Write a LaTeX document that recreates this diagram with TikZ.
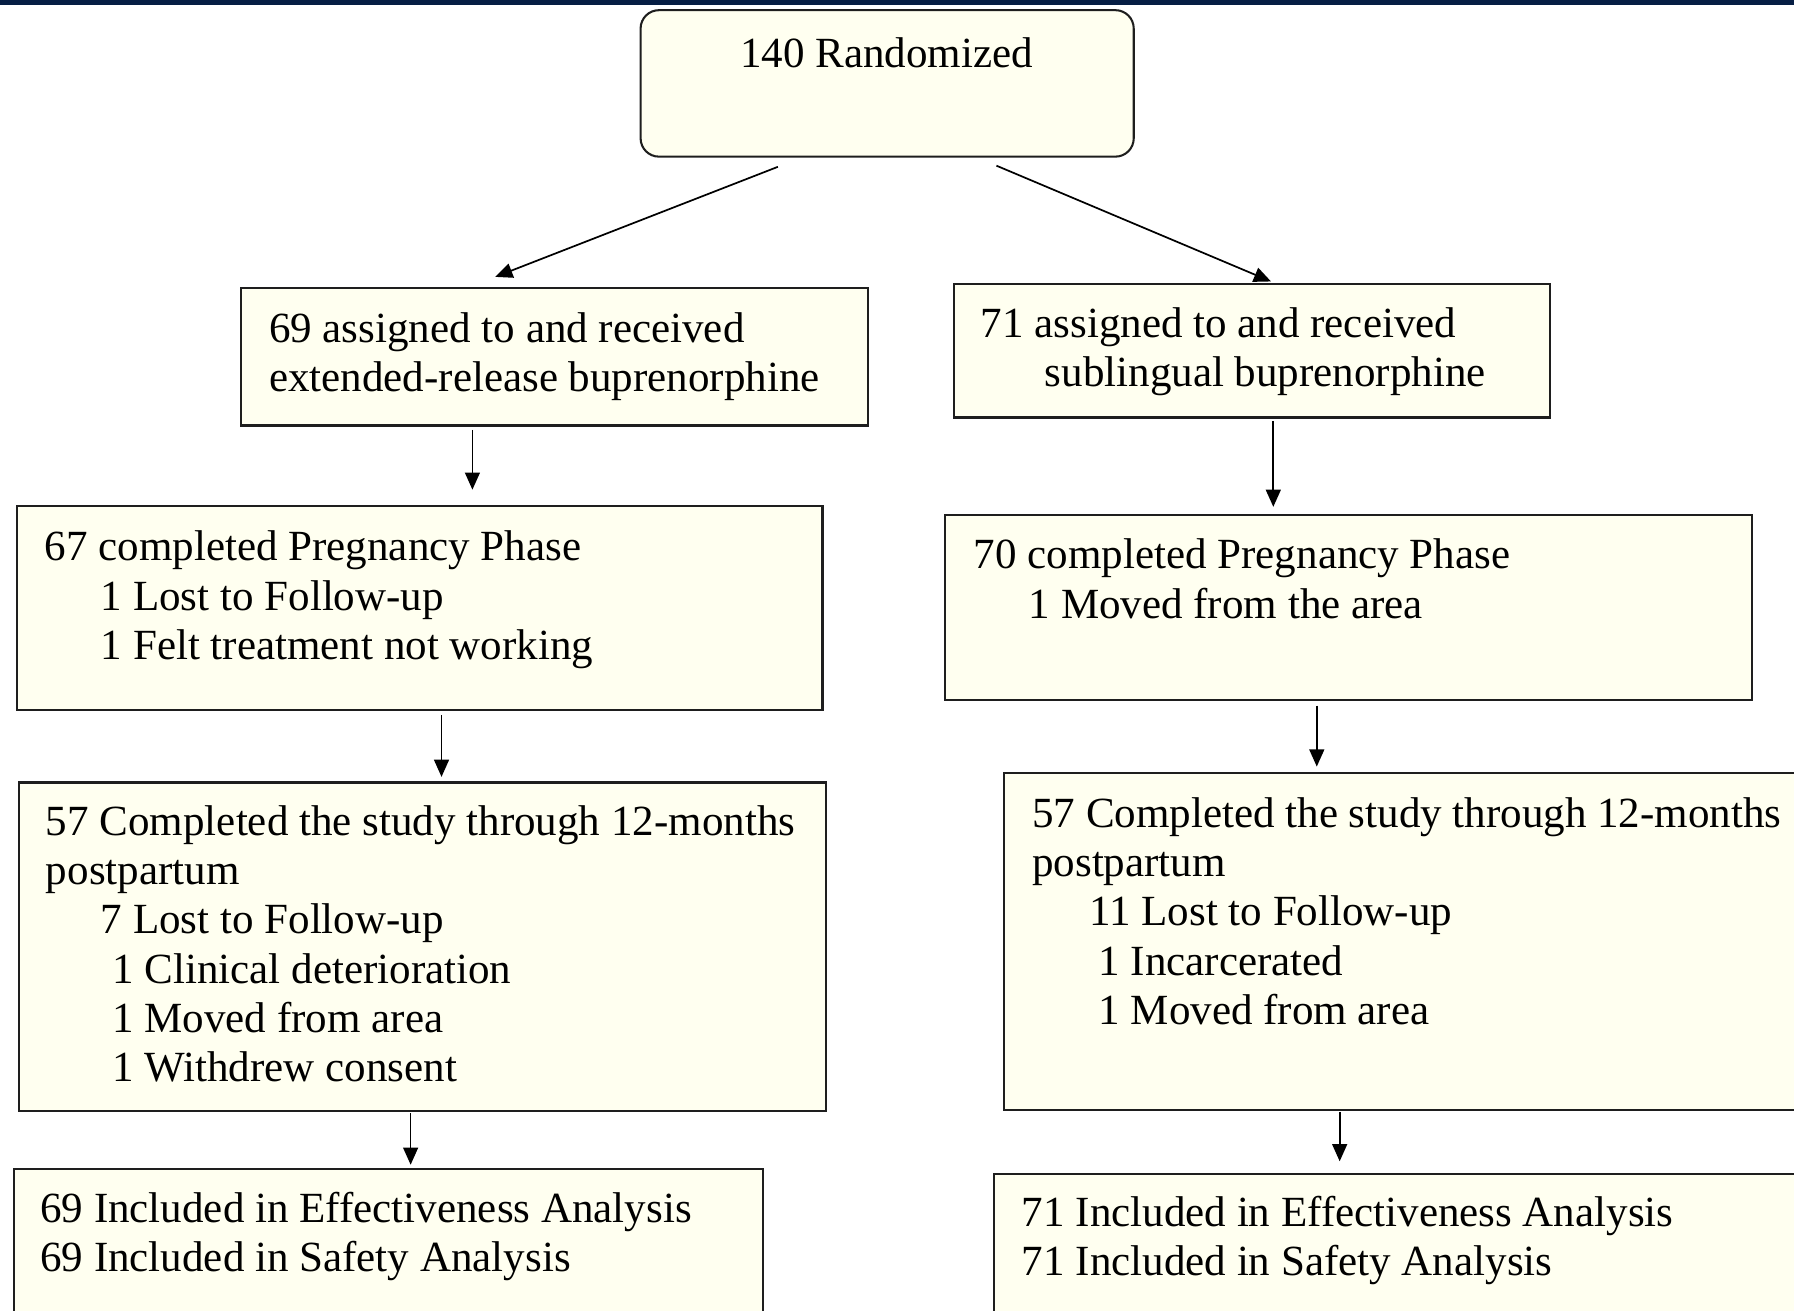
\documentclass[tikz,border=0pt]{standalone}
\usepackage{fontspec}
\setmainfont{Liberation Serif}
\usetikzlibrary{arrows.meta}
\definecolor{cream}{RGB}{255,255,240}
\definecolor{navy}{RGB}{6,30,68}
\definecolor{edge}{RGB}{30,30,30}
\begin{document}
\begin{tikzpicture}[x=1pt,y=-1pt,
  box/.style={draw=edge, line width=1.8pt, fill=cream, inner sep=0pt, anchor=north west},
  txt/.style={inner sep=0pt, align=left, anchor=north west, text=black,
    font=\fontsize{37.6}{43}\selectfont},
  arr/.style={draw=black, line width=1.5pt, -{Triangle[length=15pt,width=13pt]}}]
\useasboundingbox (0,0) rectangle (1568,1145);
\clip (0,0) rectangle (1568,1145);
\fill[navy] (0,0) rectangle (1568,4.5);
% boxes
\node[box, rounded corners=16pt, minimum width=431pt, minimum height=128pt] (R) at (559,8) {};
\node[box, minimum width=548pt, minimum height=120pt] (A) at (210,251) {};
\node[box, minimum width=521pt, minimum height=117pt] (B) at (833,247) {};
\node[box, minimum width=704pt, minimum height=179pt] (C) at (14,441) {};
\node[box, minimum width=705pt, minimum height=162pt] (D) at (825,449) {};
\node[box, minimum width=705pt, minimum height=287pt] (E) at (16,683) {};
\node[box, minimum width=710pt, minimum height=294pt] (F) at (877,675) {};
\node[box, minimum width=655pt, minimum height=150pt] (G) at (11,1021) {};
\node[box, minimum width=712pt, minimum height=150pt] (H) at (868,1025) {};
% texts
\node[txt, anchor=base] (Rt) at (775,59) {140 Randomized};
\node[txt] (At) at (235,269) {\rule{0pt}{30pt}69 assigned to and received\\extended-release buprenorphine};
\node[txt] (Bt) at (857,265) {\rule{0pt}{30pt}71 assigned to and received\\\hspace*{56pt}sublingual buprenorphine};
\node[txt] (Ct) at (39,460) {\rule{0pt}{30pt}67 completed Pregnancy Phase\\\hspace*{49pt}1 Lost to Follow-up\\\hspace*{49pt}1 Felt treatment not working};
\node[txt] (Dt) at (851,467) {\rule{0pt}{30pt}70 completed Pregnancy Phase\\\hspace*{48pt}1 Moved from the area};
\node[txt] (Et) at (40,700) {\rule{0pt}{30pt}57 Completed the study through 12-months\\postpartum\\\hspace*{48pt}7 Lost to Follow-up\\\hspace*{58pt}1 Clinical deterioration\\\hspace*{58pt}1 Moved from area\\\hspace*{58pt}1 Withdrew consent};
\node[txt] (Ft) at (902,693) {\rule{0pt}{30pt}57 Completed the study through 12-months\\postpartum\\\hspace*{50pt}11 Lost to Follow-up\\\hspace*{58pt}1 Incarcerated\\\hspace*{58pt}1 Moved from area};
\node[txt] (Gt) at (35,1038) {\rule{0pt}{30pt}69 Included in Effectiveness Analysis\\69 Included in Safety Analysis};
\node[txt] (Ht) at (893,1042) {\rule{0pt}{30pt}71 Included in Effectiveness Analysis\\71 Included in Safety Analysis};
% connectors
\draw[arr] ([xshift=-95.5pt,yshift=-8pt]R.south) -- ([xshift=-52pt,yshift=9pt]A.north);
\draw[arr] ([xshift=95.5pt,yshift=-7pt]R.south) -- ([xshift=16.5pt,yshift=1pt]B.north);
\draw[arr] ([xshift=-72pt,yshift=-3pt]A.south) -- ([xshift=46pt,yshift=13pt]C.north);
\draw[arr] ([xshift=18.5pt,yshift=-2pt]B.south) -- ([xshift=-65.5pt,yshift=6pt]D.north);
\draw[arr] ([xshift=19pt,yshift=-3pt]C.south) -- ([xshift=16.5pt,yshift=4pt]E.north);
\draw[arr] ([xshift=-27.5pt,yshift=-4pt]D.south) -- ([xshift=-82pt,yshift=5pt]F.north);
\draw[arr] ([xshift=-10.5pt,yshift=-1pt]E.south) -- ([xshift=19.5pt,yshift=3pt]G.north);
\draw[arr] ([xshift=-62pt,yshift=-1pt]F.south) -- ([xshift=-54pt,yshift=10pt]H.north);
\end{tikzpicture}
\end{document}
